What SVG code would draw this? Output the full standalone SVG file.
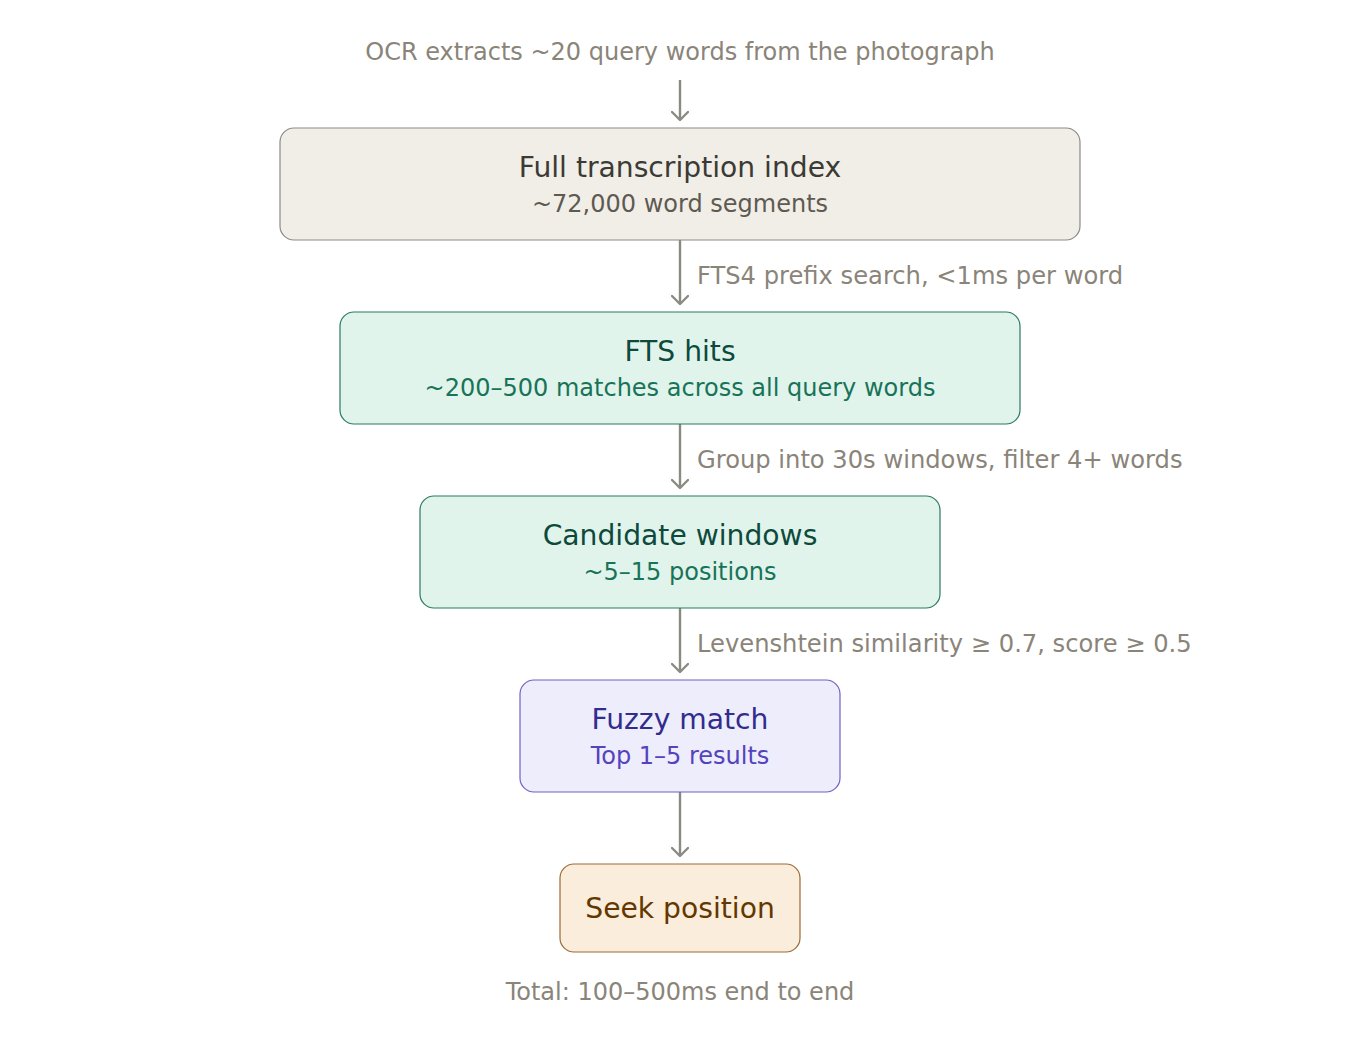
<svg xmlns="http://www.w3.org/2000/svg" width="1360" height="1040" viewBox="0 0 1360 1040">
<defs>
<marker id="arr" viewBox="0 0 18 18" refX="10" refY="9" markerWidth="18" markerHeight="18" markerUnits="userSpaceOnUse" orient="auto">
<path d="M2,1 L10,9 L2,17" fill="none" stroke="#8a8a82" stroke-width="2.4" stroke-linecap="round" stroke-linejoin="round"/>
</marker>
<style>
text{font-family:"DejaVu Sans",Verdana,sans-serif;text-anchor:middle}
.note{font-size:24px;fill:#8a8479}
.lbl{font-size:24.2px;fill:#8a8479;text-anchor:start}
.t{font-size:28.2px}
.s{font-size:24px}
.e{stroke:#8a8a82;stroke-width:2.4;fill:none;marker-end:url(#arr)}
</style>
</defs>
<rect width="1360" height="1040" fill="#ffffff"/>
<text class="note" x="680" y="60">OCR extracts ~20 query words from the photograph</text>
<g id="connectors">
<line class="e" x1="680" y1="80" x2="680" y2="120"/>
<line class="e" x1="680" y1="240" x2="680" y2="304"/>
<line class="e" x1="680" y1="424" x2="680" y2="488"/>
<line class="e" x1="680" y1="608" x2="680" y2="672"/>
<line class="e" x1="680" y1="792" x2="680" y2="856"/>
<text class="lbl" x="697" y="284">FTS4 prefix search, &lt;1ms per word</text>
<text class="lbl" x="697" y="468">Group into 30s windows, filter 4+ words</text>
<text class="lbl" x="697" y="652">Levenshtein similarity ≥ 0.7, score ≥ 0.5</text>
</g>
<g id="n1">
<rect x="280" y="128" width="800" height="112" rx="14" fill="#f1eee7" stroke="#8c8a84" stroke-width="1.2"/>
<text class="t" x="680" y="177" fill="#3b3a35">Full transcription index</text>
<text class="s" x="680" y="212" fill="#5e5a52">~72,000 word segments</text>
</g>
<g id="n2">
<rect x="340" y="312" width="680" height="112" rx="14" fill="#e1f4ec" stroke="#2a7a5e" stroke-width="1.2"/>
<text class="t" x="680" y="361" fill="#0d4a3b">FTS hits</text>
<text class="s" x="680" y="396" fill="#187358">~200–500 matches across all query words</text>
</g>
<g id="n3">
<rect x="420" y="496" width="520" height="112" rx="14" fill="#e1f4ec" stroke="#2a7a5e" stroke-width="1.2"/>
<text class="t" x="680" y="545" fill="#0d4a3b">Candidate windows</text>
<text class="s" x="680" y="580" fill="#187358">~5–15 positions</text>
</g>
<g id="n4">
<rect x="520" y="680" width="320" height="112" rx="14" fill="#eeedfc" stroke="#6f60c8" stroke-width="1.2"/>
<text class="t" x="680" y="729" fill="#312c8e">Fuzzy match</text>
<text class="s" x="680" y="764" fill="#5443bd">Top 1–5 results</text>
</g>
<g id="n5">
<rect x="560" y="864" width="240" height="88" rx="14" fill="#fbeddb" stroke="#9c6a36" stroke-width="1.2"/>
<text class="t" x="680" y="918" fill="#633700">Seek position</text>
</g>
<text class="note" x="680" y="1000">Total: 100–500ms end to end</text>
</svg>
